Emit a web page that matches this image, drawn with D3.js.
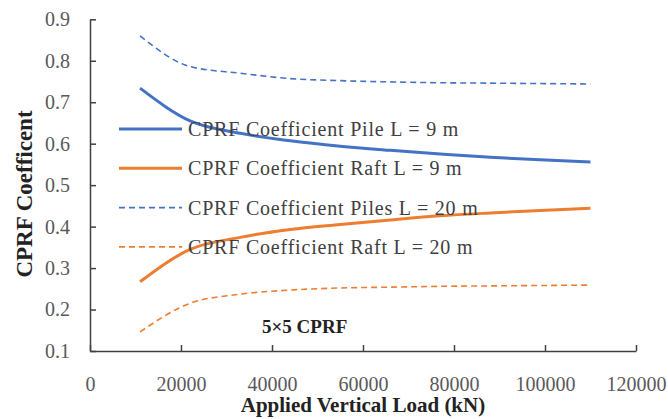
<!DOCTYPE html>
<html>
<head>
    <meta charset="UTF-8" />
    <title>CPRF coefficient</title>
    <script src="https://d3js.org/d3.v7.min.js"></script>
    <style>
    body { margin: 0; background: #fff; }
    svg text { font-family: "Liberation Serif", Tinos, "Times New Roman", Times, "DejaVu Serif", serif !important; }
    </style>
</head>
<body>
<div id="main"></div>
<script type="text/javascript">

// applied vertical load (kN)
var loads = [11000, 22000, 33000, 44000, 55000, 66000, 77000, 88000, 99000, 110000]

var pile9   = [0.734, 0.655, 0.625, 0.607, 0.594, 0.584, 0.575, 0.567, 0.561, 0.556]
var raft9   = [0.267, 0.345, 0.374, 0.393, 0.405, 0.416, 0.426, 0.433, 0.439, 0.444]
var piles20 = [0.860, 0.786, 0.770, 0.757, 0.752, 0.749, 0.747, 0.746, 0.745, 0.744]
var raft20  = [0.146, 0.215, 0.237, 0.247, 0.252, 0.254, 0.256, 0.257, 0.258, 0.259]

var seriesNames = ["CPRF Coefficient Pile L = 9 m", "CPRF Coefficient Raft L = 9 m",
                   "CPRF Coefficient Piles L = 20 m", "CPRF Coefficient Raft L = 20 m"]

var xTicks = [0, 20000, 40000, 60000, 80000, 100000, 120000]
var yTicks = [0.1, 0.2, 0.3, 0.4, 0.5, 0.6, 0.7, 0.8, 0.9]

var width = 668
var height = 419

var svg = d3.select("#main").append("svg")
    .attr("width", width)
    .attr("height", height)

var x = d3.scaleLinear().domain([0, 120000]).range([90, 636])
var y = d3.scaleLinear().domain([0.1, 0.9]).range([351, 19.3])

var blue = "#4472C4", orange = "#ED7D31"

var series = [
    {name: seriesNames[0], values: pile9,   color: blue,   dash: null},
    {name: seriesNames[1], values: raft9,   color: orange, dash: null},
    {name: seriesNames[2], values: piles20, color: blue,   dash: "6,4"},
    {name: seriesNames[3], values: raft20,  color: orange, dash: "6,4"}
]

// axes (ticks on the inside, like excel)
var xAxis = svg.append("g")
    .attr("transform", "translate(0," + y(0.1) + ")")
    .call(d3.axisBottom(x).tickValues(xTicks).tickSizeInner(-6).tickSizeOuter(0).tickPadding(26).tickFormat(d3.format("d")))
var yAxis = svg.append("g")
    .attr("transform", "translate(" + x(0) + ",0)")
    .call(d3.axisLeft(y).tickValues(yTicks).tickSizeInner(-6).tickSizeOuter(0).tickPadding(20).tickFormat(d3.format(".1f")))

svg.selectAll("g").attr("font-family", null)
svg.selectAll(".domain, .tick line").attr("stroke", "#404040").attr("stroke-width", 1.5)
svg.selectAll(".tick text")
    .attr("fill", "#595959")
    .style("font-size", "20px")

var line = d3.line()
    .x(function(d, i) { return x(loads[i]) })
    .y(function(d) { return y(d) })
    .curve(d3.curveMonotoneX)

svg.append("g")
    .selectAll("path")
    .data(series)
    .enter().append("path")
    .attr("d", function(d) { return line(d.values) })
    .attr("fill", "none")
    .attr("stroke", function(d) { return d.color })
    .attr("stroke-width", function(d) { return d.dash ? 1.6 : 3 })
    .attr("stroke-dasharray", function(d) { return d.dash })

// legend
var legend = svg.append("g")
    .selectAll("g")
    .data(series)
    .enter().append("g")
    .attr("transform", function(d, i) { return "translate(119," + (129 + i * 39.3) + ")" })

legend.append("line")
    .attr("x1", 0).attr("x2", 63)
    .attr("stroke", function(d) { return d.color })
    .attr("stroke-width", function(d) { return d.dash ? 1.6 : 3 })
    .attr("stroke-dasharray", function(d) { return d.dash })

legend.append("text")
    .attr("x", 69)
    .attr("dy", "0.35em")
    .attr("fill", "#404040")
    .style("font-size", "20px")
    .style("letter-spacing", "0.8px")
    .text(function(d) { return d.name })

svg.append("text")
    .attr("x", 262).attr("y", 333)
    .attr("fill", "#222")
    .style("font-size", "19px")
    .style("font-weight", "bold")
    .text("5\u00d75 CPRF")

// axis titles
svg.append("text")
    .attr("x", 363).attr("y", 412)
    .attr("text-anchor", "middle")
    .attr("fill", "#222")
    .style("font-size", "21px")
    .style("font-weight", "bold")
    .text("Applied Vertical Load  (kN)")

svg.append("text")
    .attr("transform", "translate(32,194) rotate(-90)")
    .attr("text-anchor", "middle")
    .attr("fill", "#222")
    .style("font-size", "23px")
    .style("font-weight", "bold")
    .text("CPRF  Coefficent")

</script>
</body>
</html>
